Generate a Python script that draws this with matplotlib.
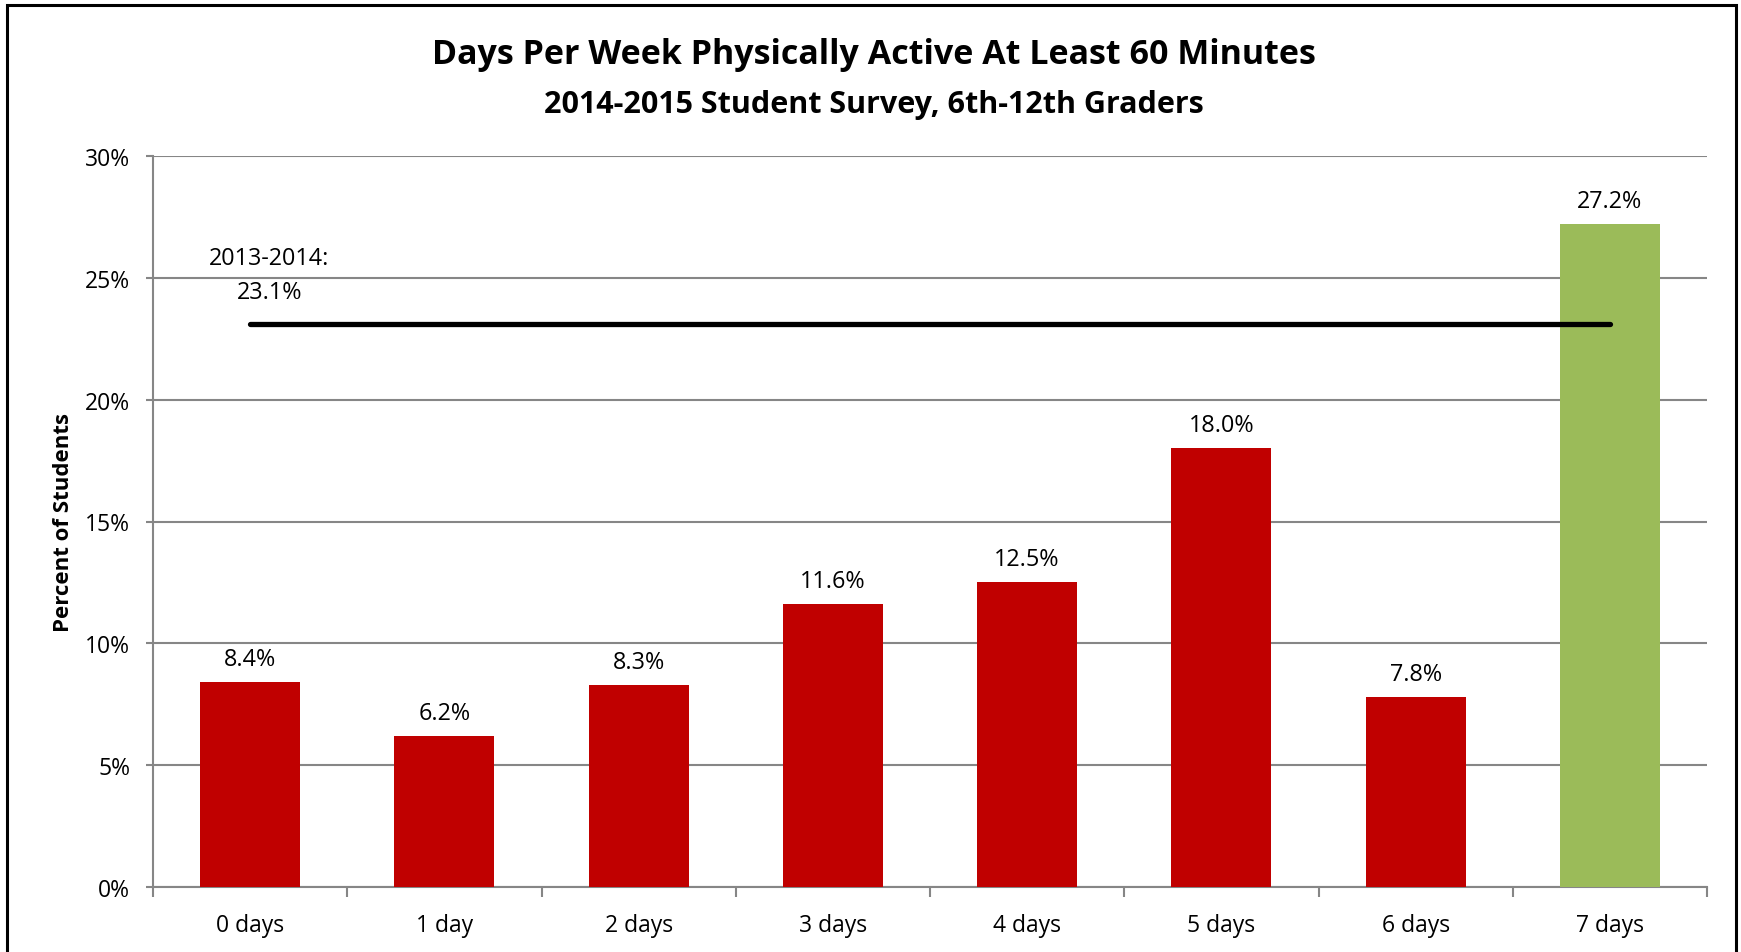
import matplotlib.pyplot as plt
from matplotlib.patches import Rectangle
from matplotlib.ticker import FuncFormatter

# Data
categories = ['0 days', '1 day', '2 days', '3 days', '4 days', '5 days', '6 days', '7 days']
percents = [8.4, 6.2, 8.3, 11.6, 12.5, 18.0, 7.8, 27.2]
bar_colors = ['#C00000'] * 7 + ['#9BBB59']
prior_year_value = 23.1
prior_year_label = '2013-2014:\n23.1%'

plt.rcParams['font.family'] = ['Open Sans', 'DejaVu Sans']

fig = plt.figure(figsize=(17.41, 9.53), dpi=100)
W, H = 1741, 953
ax = fig.add_axes([153 / W, 1 - 888 / H, (1707 - 153) / W, (888 - 157) / H])

x = list(range(len(categories)))
bars = ax.bar(x, percents, width=0.515, color=bar_colors, zorder=3)

# data labels
for xi, v in zip(x, percents):
    ax.annotate(f'{v:.1f}%', (xi, v), xytext=(0, 8), textcoords='offset points',
                ha='center', va='bottom', fontsize=16.8)

# prior year reference line
ax.plot([x[0], x[-1]], [prior_year_value, prior_year_value], color='black',
        lw=3.8, solid_capstyle='round', zorder=4)
ax.text(0.1, 25.1, prior_year_label, ha='center', va='center', fontsize=16.8,
        multialignment='center', linespacing=1.55)

ax.set_xlim(-0.5, len(categories) - 0.5)
ax.set_ylim(0, 30)
ax.set_yticks(range(0, 31, 5))
ax.yaxis.set_major_formatter(FuncFormatter(lambda v, p: f'{v:.0f}%'))
ax.set_xticks(x)
ax.set_xticklabels(categories, fontsize=16.5)
ax.set_xticks([i - 0.5 for i in range(len(categories) + 1)], minor=True)
ax.tick_params(axis='x', which='major', length=0, pad=19)
ax.tick_params(axis='x', which='minor', length=7, color='#868686', width=1.5)
ax.tick_params(axis='y', length=5, color='#868686', width=1.5, labelsize=16.5, pad=11.5)

ax.grid(axis='y', color='#868686', lw=1.5, zorder=0)
for s in ['top', 'right']:
    ax.spines[s].set_visible(False)
for s in ['left', 'bottom']:
    ax.spines[s].set_color('#868686')
    ax.spines[s].set_linewidth(1.5)

ax.set_ylabel('Percent of Students', fontsize=16, fontweight='bold', va='center')
ax.yaxis.set_label_coords(-0.0578, 0.5)

fig.text(874 / W, 1 - 55 / H, 'Days Per Week Physically Active At Least 60 Minutes',
         ha='center', va='center', fontsize=24.5, fontweight='bold')
fig.text(874 / W, 1 - 105 / H, '2014-2015 Student Survey, 6th-12th Graders',
         ha='center', va='center', fontsize=22, fontweight='bold')

# outer chart border (bottom edge lies outside the image)
fig.patches.append(Rectangle((7 / W, -0.05), (1736 - 7) / W, 1 - 6 / H + 0.05,
                             transform=fig.transFigure, fill=False,
                             edgecolor='black', lw=2.2))

fig.savefig('out.png', dpi=100)
